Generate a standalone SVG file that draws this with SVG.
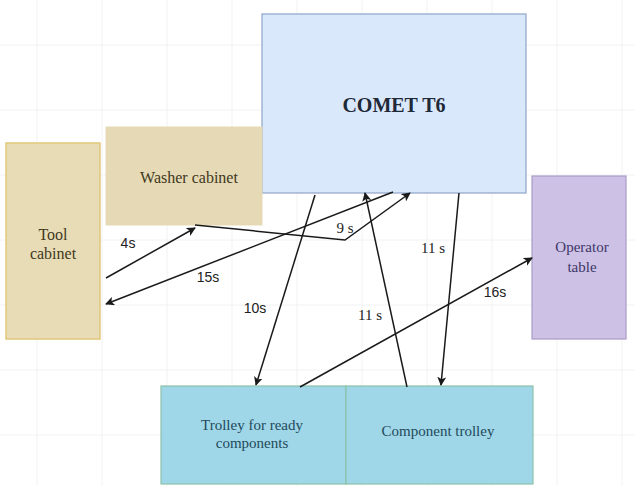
<svg xmlns="http://www.w3.org/2000/svg" width="635" height="486" viewBox="0 0 635 486">
<defs>
<style>
.grid{stroke:#f2f2f2;stroke-width:1}
.node text{text-anchor:middle;dominant-baseline:central}
.edge{fill:none;stroke:#1a1a1a;stroke-width:1.5}
.lbl{font-size:14px;fill:#222;text-anchor:middle;dominant-baseline:central}
.lbls{font-size:15px;fill:#222;text-anchor:middle;dominant-baseline:central}
</style>
<marker id="ah" viewBox="0 0 10 10" refX="9" refY="5" markerWidth="9" markerHeight="9" markerUnits="userSpaceOnUse" orient="auto-start-reverse">
<path d="M0,0 L10,5 L0,10 L2.5,5 Z" fill="#1a1a1a"/>
</marker>
</defs>
<rect width="635" height="486" fill="#ffffff"/>
<g id="grid">
<path class="grid" d="M37,0V486M102,0V486M167,0V486M232,0V486M297,0V486M362,0V486M427,0V486M492,0V486M557,0V486M622,0V486M0,45H635M0,110H635M0,175H635M0,240H635M0,305H635M0,370H635M0,435H635"/>
</g>
<g id="comet" class="node" font-family="Liberation Serif, serif">
<rect x="262" y="14" width="264" height="179" fill="#dae8fc" stroke="#8ea4c8" stroke-width="1.2"/>
<text x="394" y="105" font-size="20" font-weight="bold" fill="#1f2937">COMET T6</text>
</g>
<g id="washer" class="node" font-family="Liberation Serif, serif">
<rect x="106" y="127" width="156" height="98" fill="#e6dab6" stroke="#e6dab6" stroke-width="1"/>
<text x="189" y="177" font-size="16" fill="#3f3820">Washer cabinet</text>
</g>
<g id="tool" class="node" font-family="Liberation Serif, serif">
<rect x="6" y="143" width="94" height="196" fill="#e8dcb6" stroke="#e2c77a" stroke-width="1.5"/>
<text x="53" y="234" font-size="16" fill="#3f3820">Tool</text>
<text x="53" y="253" font-size="16" fill="#3f3820">cabinet</text>
</g>
<g id="operator" class="node" font-family="Liberation Serif, serif">
<rect x="532" y="176" width="94" height="163" fill="#cdc2e6" stroke="#a99bc6" stroke-width="1.2"/>
<text x="582" y="247" font-size="15" fill="#3e3666">Operator</text>
<text x="582" y="267" font-size="15" fill="#3e3666">table</text>
</g>
<g id="trolley-ready" class="node" font-family="Liberation Serif, serif">
<rect x="161" y="386" width="185" height="98" fill="#9fd6e8" stroke="#8cc2a8" stroke-width="1.2"/>
<text x="252" y="425" font-size="15" fill="#234a5a">Trolley for ready</text>
<text x="252" y="443" font-size="15" fill="#234a5a">components</text>
</g>
<g id="trolley-component" class="node" font-family="Liberation Serif, serif">
<rect x="346" y="386" width="187" height="98" fill="#9fd6e8" stroke="#8cc2a8" stroke-width="1.2"/>
<text x="438" y="431" font-size="15" fill="#234a5a">Component trolley</text>
</g>
<g id="connectors">
<path class="edge" d="M106,278 L195,228" marker-end="url(#ah)"/>
<path class="edge" d="M393,192 L106,304" marker-end="url(#ah)"/>
<path class="edge" d="M195,225 L345,240 L410,193" marker-end="url(#ah)"/>
<path class="edge" d="M315,195 L256,385" marker-end="url(#ah)"/>
<path class="edge" d="M407,387 L365,193" marker-end="url(#ah)"/>
<path class="edge" d="M459,193 L441,385" marker-end="url(#ah)"/>
<path class="edge" d="M300,387 L532,258" marker-end="url(#ah)"/>
<text class="lbl" font-family="Liberation Sans, sans-serif" x="128" y="243">4s</text>
<text class="lbl" font-family="Liberation Sans, sans-serif" x="208" y="277">15s</text>
<text class="lbls" font-family="Liberation Serif, serif" x="345" y="228">9 s</text>
<text class="lbl" font-family="Liberation Sans, sans-serif" x="255" y="308">10s</text>
<text class="lbls" font-family="Liberation Serif, serif" x="370" y="315">11 s</text>
<text class="lbls" font-family="Liberation Serif, serif" x="433" y="248">11 s</text>
<text class="lbl" font-family="Liberation Sans, sans-serif" x="495" y="292">16s</text>
</g>
</svg>
